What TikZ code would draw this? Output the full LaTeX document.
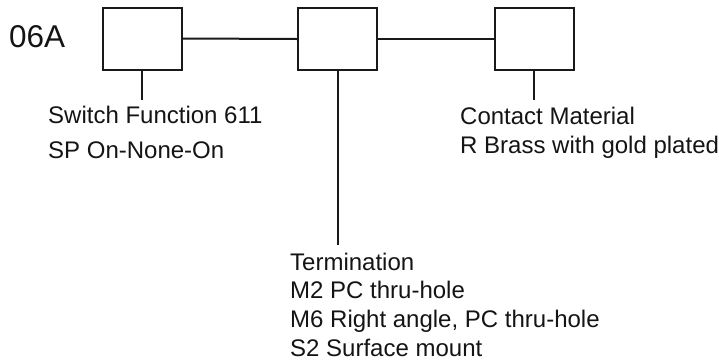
\documentclass[tikz,border=0pt]{standalone}
\usepackage{fontspec}
\setmainfont{Liberation Sans}
\begin{document}
\begin{tikzpicture}[x=1pt,y=-1pt,
  box/.style={draw=black!90,line width=2pt,minimum width=79pt,minimum height=62pt,inner sep=0pt},
  conn/.style={draw=black!90,line width=2pt},
  lbl/.style={anchor=base west,inner sep=0pt,text=black!92,font=\fontsize{24}{28}\selectfont},
  big/.style={anchor=base west,inner sep=0pt,text=black!92,font=\fontsize{31.5}{36}\selectfont}]
\useasboundingbox (0,0) rectangle (719,362);
\node[box] (b1) at (142,38.5) {};
\node[box] (b2) at (337.5,39) {};
\node[box] (b3) at (534,39) {};
\coordinate (e1) at (142,100);
\coordinate (e2) at (337.5,245);
\coordinate (e3) at (534,100);
\draw[conn] (b1.east) -- (b2.west);
\draw[conn] (b2.east) -- (b3.west);
\draw[conn] (b1.south) -- (e1);
\draw[conn] (b2.south) -- (e2);
\draw[conn] (b3.south) -- (e3);
\node[big] (code) at (9,47) {06A};
\node[lbl] (sf1) at (48,123) {Switch Function 611};
\node[lbl] (sf2) at (48,158) {SP On-None-On};
\node[lbl] (cm1) at (460,124) {Contact Material};
\node[lbl] (cm2) at (460,153) {R Brass with gold plated};
\node[lbl] (t1) at (290,270) {Termination};
\node[lbl] (t2) at (290,298) {M2 PC thru-hole};
\node[lbl] (t3) at (290,327) {M6 Right angle, PC thru-hole};
\node[lbl] (t4) at (290,356) {S2 Surface mount};
\end{tikzpicture}
\end{document}
